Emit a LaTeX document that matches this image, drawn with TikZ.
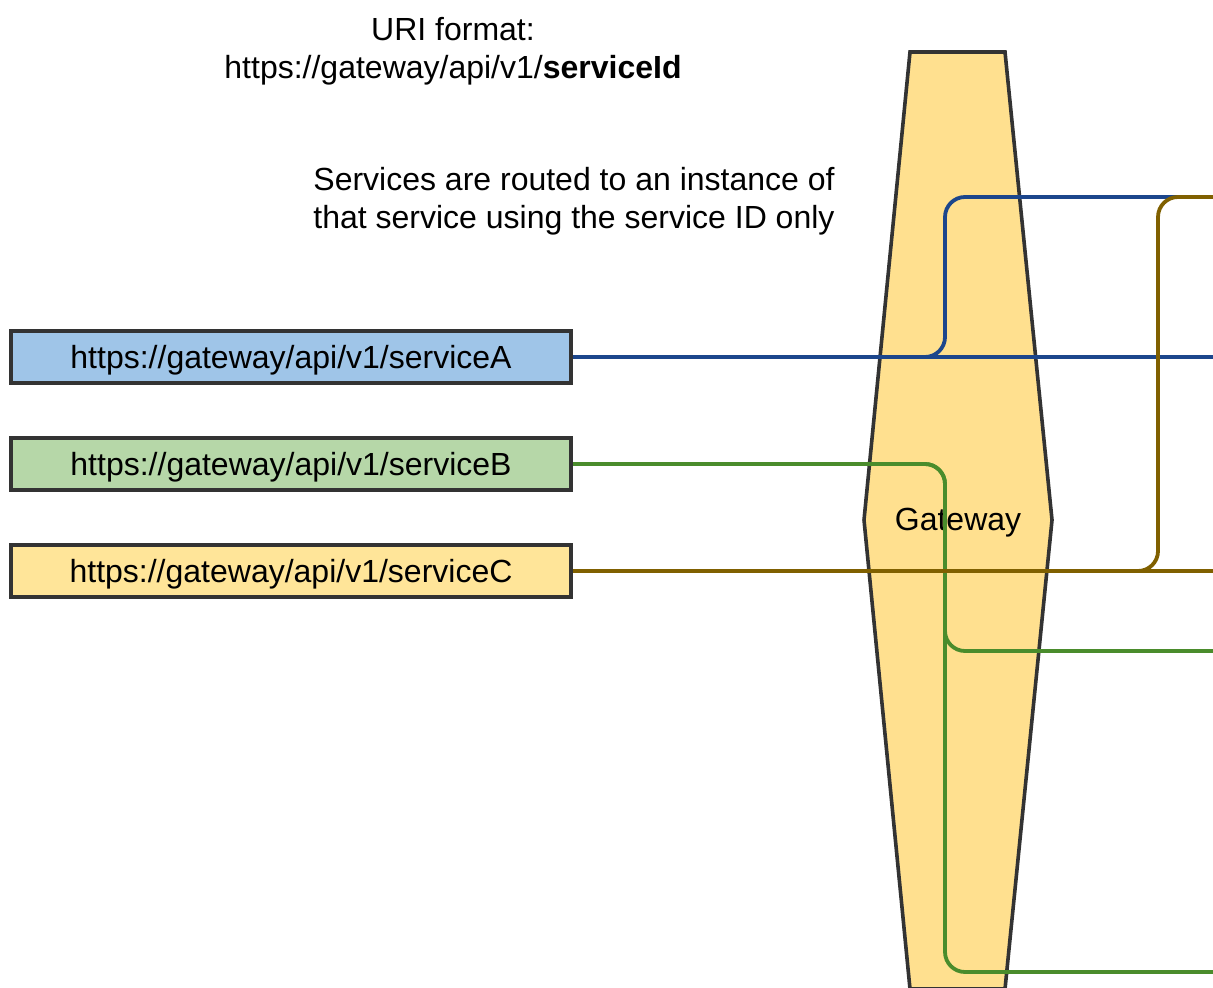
\documentclass[tikz,border=0pt]{standalone}
\usepackage{fontspec}
\setmainfont{Liberation Sans}
\usepackage{xcolor}
\usepackage{tikz}
\usetikzlibrary{positioning}
\definecolor{boxborder}{HTML}{333333}
\definecolor{svcblue}{HTML}{9FC5E8}
\definecolor{svcgreen}{HTML}{B6D7A8}
\definecolor{svcyellow}{HTML}{FFE599}
\definecolor{gwyellow}{HTML}{FFE08F}
\definecolor{routeblue}{HTML}{1C468C}
\definecolor{routegreen}{HTML}{4A8C2C}
\definecolor{routeolive}{HTML}{806000}
\tikzset{
  uribox/.style={
    draw=boxborder,
    line width=2pt,
    minimum width=280pt,
    minimum height=26pt,
    inner sep=0pt,
    text height=11.6pt,
    text depth=0.5pt,
    font=\fontsize{16}{19}\selectfont
  },
  uriboxA/.style={
    uribox,
    fill=svcblue
  },
  uriboxB/.style={
    uribox,
    fill=svcgreen
  },
  uriboxC/.style={
    uribox,
    fill=svcyellow
  },
  gatewayshape/.style={
    draw=boxborder,
    fill=gwyellow,
    line width=1.8pt
  },
  notetext/.style={
    inner sep=0pt,
    font=\fontsize{16}{19}\selectfont
  },
  route/.style={
    line width=1.9pt,
    rounded corners=10pt
  }
}

\begin{document}
\begin{tikzpicture}[x=0.5pt, y=-0.5pt]
    \useasboundingbox (0,0) rectangle (1213,988);

    \node[notetext, align=center] (uriformat) at (453,51) {
        URI format:\\
        https://gateway/api/v1/\textbf{serviceId}
    };
    \node[notetext, align=left, anchor=west] (routingnote) at (313,201) {
        Services are routed to an instance of\\
        that service using the service ID only
    };

    \draw[gatewayshape] (910,52) -- (1005,52) -- (1052,520) -- (1005,989) -- (910,989) -- (864,520) -- cycle;
    \node[notetext] (gateway) at (958,523) {Gateway};

    \node[uriboxA] (serviceA) at (291,357) {https://gateway/api/v1/serviceA};
    \node[uriboxB, below=25.5pt of serviceA] (serviceB) {https://gateway/api/v1/serviceB};
    \node[uriboxC, below=25.5pt of serviceB] (serviceC) {https://gateway/api/v1/serviceC};

    \coordinate (rightedge) at (1213,0);
    \coordinate (instA1) at (serviceA.east -| rightedge);
    \coordinate (instA2) at (1213,197);
    \coordinate (instB1) at (1213,651);
    \coordinate (instB2) at (1213,972);
    \coordinate (instC1) at (serviceC.east -| rightedge);
    \coordinate (instC2) at (1213,197);

    \draw[route, routeblue] (serviceA.east) -- (instA1);
    \draw[route, routeblue] (serviceA.east) -| (945,197) -- (instA2);
    \draw[route, routegreen] (serviceB.east) -| (945,651) -- (instB1);
    \draw[route, routegreen] (serviceB.east) -| (945,972) -- (instB2);
    \draw[route, routeolive] (serviceC.east) -- (instC1);
    \draw[route, routeolive] (serviceC.east) -| (1158,197) -- (instC2);
\end{tikzpicture}
\end{document}
